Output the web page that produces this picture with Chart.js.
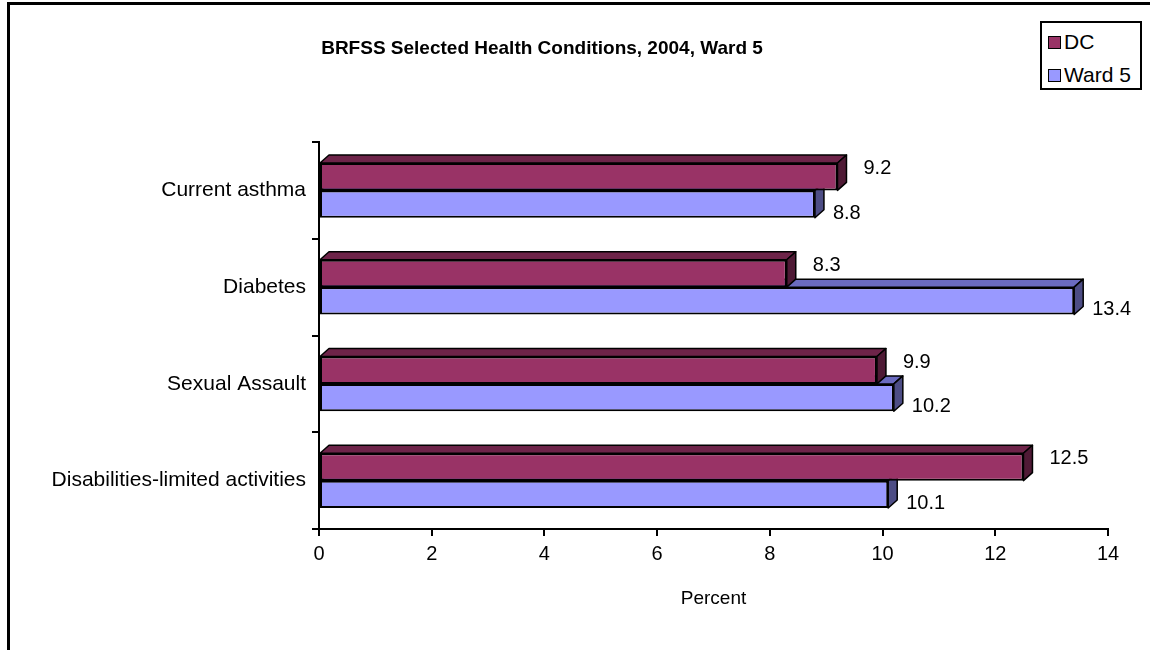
<!DOCTYPE html>
<html>
<head>
<meta charset="utf-8">
<script src="https://cdn.jsdelivr.net/npm/chart.js@4/dist/chart.umd.min.js"></script>
<style>
  body { margin: 0; background: #fff; font-family: "Liberation Sans", Arial, sans-serif; }
  #wrap { position: relative; width: 1150px; height: 650px; overflow: hidden; }
  #frame { position: absolute; left: 7px; top: 2px; width: 1200px; height: 700px; border: 3px solid #000; }
  #title { position: absolute; left: 0; top: 36px; width: 1084px; text-align: center; font-weight: bold; font-size: 19px; line-height: 24px; color: #000; }
  #legend { position: absolute; left: 1040px; top: 21px; width: 98px; height: 65px; border: 2px solid #000; background: #fff; }
  .item { position: absolute; left: 6px; font-size: 21px; line-height: 24px; color: #000; white-space: nowrap; }
  .sw { display: inline-block; width: 11px; height: 11px; border: 1px solid #000; margin-right: 3px; vertical-align: 0px; }
  canvas { position: absolute; left: 0; top: 0; }
</style>
</head>
<body>
<div id="wrap">
  <div id="frame"></div>
  <canvas id="chart" width="1150" height="650"></canvas>
  <div id="title">BRFSS Selected Health Conditions, 2004, Ward 5</div>
  <div id="legend"></div>
</div>
<script>
const categories = ["Current asthma", "Diabetes", "Sexual Assault", "Disabilities-limited activities"]
const dcValues = [9.2, 8.3, 9.9, 12.5]
const ward5Values = [8.8, 13.4, 10.2, 10.1]
const seriesNames = ["DC", "Ward 5"]
const xMin = 0
const xMax = 14
const xStep = 2

const fronts = ["#993366", "#9999FF"]
const tops = ["#6e2449", "#6b6bc0"]
const sides = ["#4f1a35", "#4d4d85"]
const depthX = 9
const depthY = 8
const FONT = "'Liberation Sans', Arial, sans-serif"

// legend
const legend = document.getElementById("legend")
seriesNames.forEach((name, i) => {
    const d = document.createElement("div")
    d.className = "item"
    d.style.top = (7 + i * 33) + "px"
    d.innerHTML = '<span class="sw" style="background:' + fronts[i] + '"></span>' + name
    legend.appendChild(d)
})

function barBox(el) {
    const p = el.getProps(["x", "y", "base", "height"], true)
    return { x: p.x, base: p.base, top: p.y - p.height / 2, bottom: p.y + p.height / 2, y: p.y }
}

function poly(ctx, pts, fill) {
    ctx.beginPath()
    ctx.moveTo(pts[0][0], pts[0][1])
    for (let i = 1; i < pts.length; i++) ctx.lineTo(pts[i][0], pts[i][1])
    ctx.closePath()
    ctx.fillStyle = fill
    ctx.fill()
    ctx.stroke()
}

const bar3d = {
    id: "bar3d",
    beforeDatasetsDraw(chart) {
        const ctx = chart.ctx
        ctx.save()
        ctx.strokeStyle = "#000"
        ctx.lineWidth = 1.5
        ctx.lineJoin = "round"
        // back series first, so the front one covers it
        ;[1, 0].forEach((di) => {
            chart.getDatasetMeta(di).data.forEach((el) => {
                const b = barBox(el)
                poly(ctx, [[b.base, b.top], [b.base + depthX, b.top - depthY], [b.x + depthX, b.top - depthY], [b.x, b.top]], tops[di])
                poly(ctx, [[b.x, b.top], [b.x + depthX, b.top - depthY], [b.x + depthX, b.bottom - depthY], [b.x, b.bottom]], sides[di])
            })
        })
        ctx.restore()
    },
    afterDatasetsDraw(chart) {
        const ctx = chart.ctx
        ctx.save()
        ctx.font = "20px " + FONT
        ctx.fillStyle = "#000"
        ctx.textAlign = "left"
        ctx.textBaseline = "middle"
        chart.data.datasets.forEach((ds, di) => {
            chart.getDatasetMeta(di).data.forEach((el, i) => {
                const b = barBox(el)
                const dx = di == 0 ? 26 : 18
                const dy = di == 0 ? -8 : 9
                ctx.fillText(ds.data[i].toFixed(1), b.x + dx, b.y + dy)
            })
        })
        ctx.restore()
    }
}

new Chart(document.getElementById("chart"), {
    type: "bar",
    data: {
        labels: categories,
        datasets: [{
            label: seriesNames[0],
            data: dcValues,
            backgroundColor: fronts[0],
            borderColor: "#000",
            borderWidth: 2,
            borderSkipped: false,
            barPercentage: 1,
            categoryPercentage: 0.567
        }, {
            label: seriesNames[1],
            data: ward5Values,
            backgroundColor: fronts[1],
            borderColor: "#000",
            borderWidth: 2,
            borderSkipped: false,
            barPercentage: 1,
            categoryPercentage: 0.567
        }]
    },
    options: {
        indexAxis: "y",
        responsive: false,
        animation: false,
        layout: { padding: { left: 8, top: 142, right: 42, bottom: 40 } },
        plugins: {
            legend: { display: false },
            title: { display: false },
            tooltip: { enabled: false }
        },
        scales: {
            x: {
                min: xMin,
                max: xMax,
                ticks: { stepSize: xStep, color: "#000", font: { family: FONT, size: 20 }, padding: 6, maxRotation: 0 },
                grid: { drawOnChartArea: false, drawTicks: true, tickLength: 7, color: "#000", lineWidth: 2 },
                border: { color: "#000", width: 2 },
                title: { display: true, text: "Percent", color: "#000", font: { family: FONT, size: 19 }, padding: { top: 10, bottom: 0 } },
                afterFit: (s) => { s.height = 81 }
            },
            y: {
                ticks: { color: "#000", font: { family: FONT, size: 21 }, padding: 6 },
                grid: { offset: true, drawOnChartArea: false, drawTicks: true, tickLength: 7, color: "#000", lineWidth: 2 },
                border: { color: "#000", width: 2 },
                afterFit: (s) => { s.width = 311 }
            }
        }
    },
    plugins: [bar3d]
})
</script>
</body>
</html>
